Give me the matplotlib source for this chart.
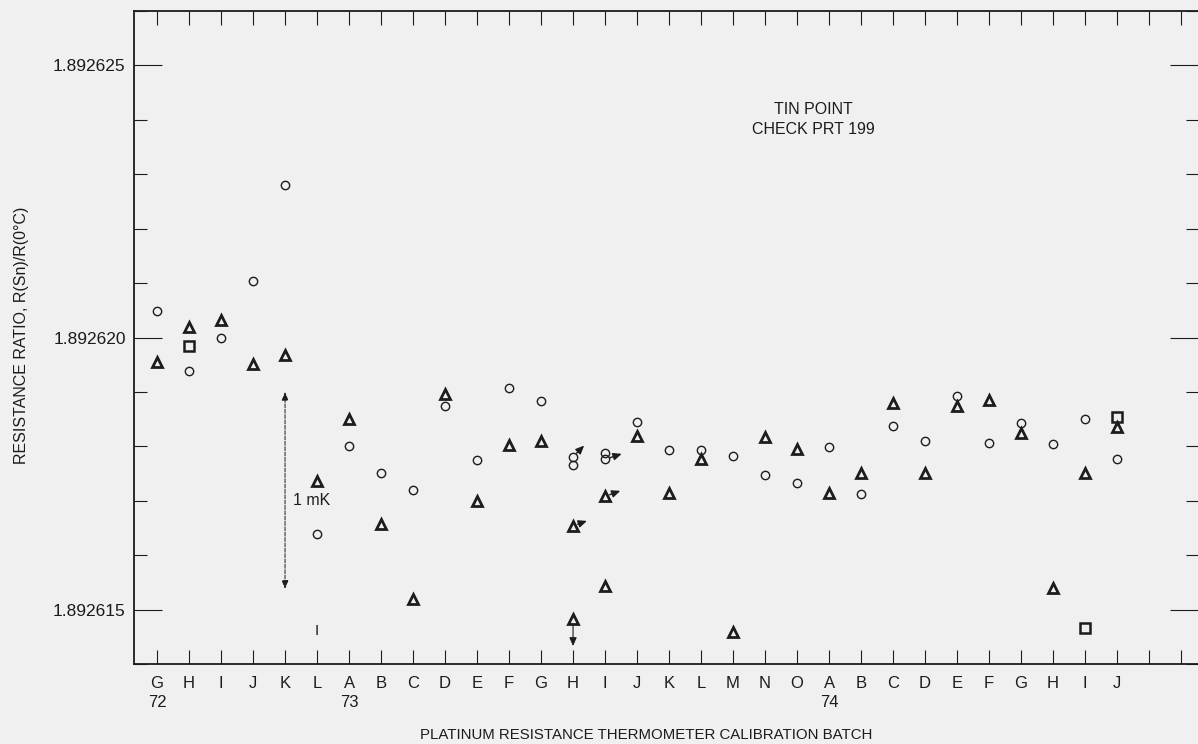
import matplotlib.pyplot as plt
from matplotlib.ticker import FixedLocator, MultipleLocator, FuncFormatter

# calibration batches, Jun 1972 .. Oct 1974
batches = ['G', 'H', 'I', 'J', 'K', 'L',
           'A', 'B', 'C', 'D', 'E', 'F', 'G', 'H', 'I', 'J', 'K', 'L', 'M', 'N', 'O',
           'A', 'B', 'C', 'D', 'E', 'F', 'G', 'H', 'I', 'J']
year_start = [0, 6, 21]
year_names = ['72', '73', '74']

# open circles
circle_idx = [0, 1, 2, 3, 4, 5, 6, 7, 8, 9, 10, 11, 12, 13, 13, 14, 14, 15,
              16, 17, 18, 19, 20, 21, 22, 23, 24, 25, 26, 27, 28, 29, 30]
circle_val = [1.89262049, 1.89261938, 1.89262000, 1.89262104, 1.89262280,
              1.89261639, 1.89261800, 1.89261751, 1.89261720, 1.89261874,
              1.89261775, 1.89261908, 1.89261883, 1.89261781, 1.89261766,
              1.89261788, 1.89261776, 1.89261845, 1.89261793, 1.89261794,
              1.89261783, 1.89261747, 1.89261733, 1.89261799, 1.89261712,
              1.89261838, 1.89261809, 1.89261893, 1.89261806, 1.89261842,
              1.89261804, 1.89261851, 1.89261776]

# triangles
tri_idx = [0, 1, 2, 3, 4, 5, 6, 7, 8, 9, 10, 11, 12, 13, 13, 14, 14, 15,
           16, 17, 18, 19, 20, 21, 22, 23, 24, 25, 26, 27, 28, 29, 30]
tri_val = [1.89261955, 1.89262019, 1.89262033, 1.89261952, 1.89261967,
           1.89261737, 1.89261851, 1.89261657, 1.89261520, 1.89261897,
           1.89261700, 1.89261802, 1.89261810, 1.89261654, 1.89261483,
           1.89261708, 1.89261543, 1.89261819, 1.89261714, 1.89261776,
           1.89261459, 1.89261817, 1.89261796, 1.89261714, 1.89261751,
           1.89261880, 1.89261751, 1.89261875, 1.89261886, 1.89261825,
           1.89261540, 1.89261751, 1.89261835]

# squares
square_idx = [1, 29, 30]
square_val = [1.89261985, 1.89261466, 1.89261854]

# flagged points (batch, value, flag offset in points)
flag_idx = [13, 14, 13, 14]
flag_val = [1.89261781, 1.89261776, 1.89261654, 1.89261708]
flag_off = [(8, 8), (12, 4), (10, 3.5), (11, 4)]

# arrow below H 73 triangle, 1 mK scale bar at K 72
down_idx, down_from, down_to = 13, 1.89261483, 1.89261433
mk_idx, mk_top, mk_bottom = 4, 1.89261900, 1.89261538
mk_label_y = 1.89261701

ink = '#1c1c1c'
paper = '#f0f0f0'
plt.rcParams['font.family'] = ['Liberation Sans', 'DejaVu Sans']
plt.rcParams['text.color'] = ink
plt.rcParams['xtick.color'] = ink
plt.rcParams['ytick.color'] = ink

fig = plt.figure(figsize=(11.98, 7.44), dpi=100, facecolor=paper)
ax = fig.add_axes([134 / 1198, 80 / 744, 1064 / 1198, 653 / 744])
ax.set_facecolor(paper)

ax.plot(circle_idx, circle_val, 'o', ms=6, mfc='none', mec=ink, mew=1.0)
ax.plot(tri_idx, tri_val, '^', ms=7.5, mfc='none', mec=ink, mew=2.0)
ax.plot(square_idx, square_val, 's', ms=6.5, mfc='none', mec=ink, mew=1.8)

for i, v, off in zip(flag_idx, flag_val, flag_off):
    ax.annotate('', xy=(i, v), xytext=off, textcoords='offset points',
                arrowprops=dict(arrowstyle='<|-,head_length=0.5,head_width=0.22',
                                color=ink, lw=1.0, shrinkA=0, shrinkB=3.5))

ax.annotate('', xy=(down_idx, down_to), xytext=(down_idx, down_from),
            arrowprops=dict(arrowstyle='-|>,head_length=0.5,head_width=0.22',
                            color=ink, lw=0.8, shrinkA=5, shrinkB=0))
ax.annotate('', xy=(mk_idx, mk_bottom), xytext=(mk_idx, mk_top),
            arrowprops=dict(arrowstyle='<|-|>,head_length=0.5,head_width=0.2',
                            color=ink, lw=0.7, ls=(0, (4, 1.5)),
                            shrinkA=0, shrinkB=0))
ax.text(mk_idx + 0.83, mk_label_y, '1 mK', fontsize=11.5,
        ha='center', va='center')
ax.text(5, 1.8926146, 'I', fontsize=11, ha='center', va='center')

ax.text(20.5, 1.8926240, 'TIN POINT\nCHECK PRT 199', fontsize=11.5,
        ha='center', va='center', linespacing=1.4)

# axes and ticks
ax.set_xlim(-0.72, 32.53)
ax.set_ylim(1.892614, 1.892626)
labels = []
for i, b in enumerate(batches):
    if i in year_start:
        labels.append(b + '\n' + year_names[year_start.index(i)])
    else:
        labels.append(b)
ax.set_xticks(list(range(len(batches) + 2)))
ax.set_xticklabels(labels + ['', ''], fontsize=12, linespacing=1.3)
ax.xaxis.set_minor_locator(FixedLocator(year_start))
ax.tick_params(axis='x', which='major', direction='in', top=True,
               length=10, width=0.8, pad=9)
ax.tick_params(axis='x', which='minor', direction='in', top=True,
               length=20, width=0.8)

ax.yaxis.set_major_locator(FixedLocator([1.892615, 1.892620, 1.892625]))
ax.yaxis.set_minor_locator(MultipleLocator(0.000001))
ax.yaxis.set_major_formatter(FuncFormatter(lambda v, p: '%.6f' % v))
ax.tick_params(axis='y', which='major', direction='in', right=True,
               length=20, width=0.8, pad=6, labelsize=12.5)
ax.tick_params(axis='y', which='minor', direction='in', right=True,
               length=9, width=0.8)

for s in ax.spines.values():
    s.set_color(ink)
    s.set_linewidth(1.3)
ax.spines['right'].set_visible(False)

fig.text(646 / 1198, 1 - 735 / 744, 'PLATINUM RESISTANCE THERMOMETER CALIBRATION BATCH',
         fontsize=10.8, ha='center', va='center')
fig.text(22 / 1198, 1 - 335 / 744, 'RESISTANCE RATIO, R(Sn)/R(0\u00b0C)',
         fontsize=11.5, rotation=90, ha='center', va='center')

fig.savefig('out.png', dpi=100, facecolor=paper)
